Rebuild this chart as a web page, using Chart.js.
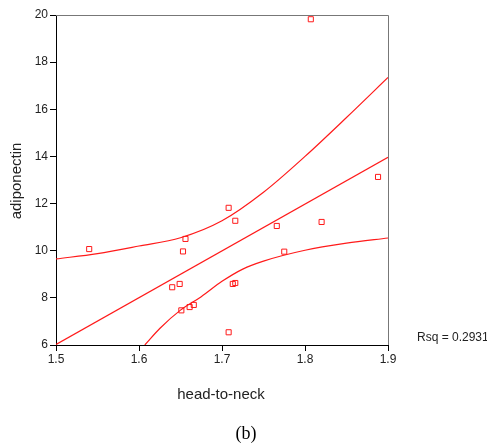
<!DOCTYPE html>
<html>
<head>
<meta charset="utf-8">
<script src="https://cdn.jsdelivr.net/npm/chart.js@4/dist/chart.umd.min.js"></script>
<style>
    html, body { margin: 0; padding: 0; background: #fff; }
    #chart { display: block; }
</style>
</head>
<body>
<canvas id="chart" width="487" height="443"></canvas>
<script>
// Observed points
const headToNeck = [1.540, 1.640, 1.649, 1.651, 1.653, 1.656, 1.661, 1.666, 1.708, 1.708, 1.713, 1.716, 1.716, 1.766, 1.775, 1.807, 1.820, 1.888];
const adiponectin = [10.07, 8.45, 8.59, 7.47, 9.97, 10.50, 7.61, 7.70, 11.82, 6.54, 8.59, 8.63, 11.27, 11.05, 9.96, 19.82, 11.22, 13.13];

// Fit line and confidence band
const fitX = [1.5, 1.9];
const fitY = [6.02, 13.96];
const upperX = [1.5, 1.55, 1.6, 1.65, 1.7, 1.75, 1.8, 1.85, 1.9];
const upperY = [9.65, 9.88, 10.2, 10.55, 11.27, 12.48, 14.0, 15.65, 17.35];
const lowerX = [1.607, 1.625, 1.65, 1.675, 1.7, 1.725, 1.75, 1.8, 1.85, 1.9];
const lowerY = [6.0, 6.7, 7.48, 8.05, 8.7, 9.22, 9.56, 10.02, 10.32, 10.54];

const xTicks = [1.5, 1.6, 1.7, 1.8, 1.9];
const yTicks = [6, 8, 10, 12, 14, 16, 18, 20];
const rsqText = 'Rsq = 0.2931';

const RED = '#ff1a1a';
const pts = (xs, ys) => xs.map((x, i) => ({x: x, y: ys[i]}));

// extra text and frame
const decorations = {
    id: 'decorations',
    afterDraw(chart) {
        const c = chart.ctx;
        const a = chart.chartArea;
        c.save();
        c.strokeStyle = '#777';
        c.lineWidth = 1;
        c.beginPath();
        c.moveTo(a.left, a.top + 0.5);
        c.lineTo(a.right + 0.5, a.top + 0.5);
        c.lineTo(a.right + 0.5, a.bottom);
        c.stroke();

        c.fillStyle = '#222';
        c.textBaseline = 'middle';
        c.font = '12px "Liberation Sans", Arial, sans-serif';
        c.textAlign = 'left';
        c.fillText(rsqText, 417, 338);

        c.font = '15px "Liberation Sans", Arial, sans-serif';
        c.textAlign = 'center';
        c.fillText('head-to-neck', 221, 395);

        c.save();
        c.translate(17, 181);
        c.rotate(-Math.PI / 2);
        c.fillText('adiponectin', 0, 0);
        c.restore();

        c.font = '18px "Liberation Serif", "Times New Roman", serif';
        c.fillStyle = '#000';
        c.fillText('(b)', 246, 434);
        c.restore();
    }
};

new Chart(document.getElementById('chart'), {
    type: 'scatter',
    data: {
        datasets: [
            {
                data: pts(headToNeck, adiponectin),
                pointStyle: 'rect',
                pointRadius: 3.6,
                pointBorderWidth: 1,
                pointBorderColor: RED,
                pointBackgroundColor: 'rgba(0,0,0,0)',
                showLine: false
            },
            {
                data: pts(fitX, fitY),
                showLine: true, pointRadius: 0,
                borderColor: RED, borderWidth: 1.2
            },
            {
                data: pts(upperX, upperY),
                showLine: true, pointRadius: 0, cubicInterpolationMode: 'monotone',
                borderColor: RED, borderWidth: 1.2
            },
            {
                data: pts(lowerX, lowerY),
                showLine: true, pointRadius: 0, cubicInterpolationMode: 'monotone',
                borderColor: RED, borderWidth: 1.2
            }
        ]
    },
    options: {
        responsive: false,
        animation: false,
        events: [],
        layout: { padding: { left: 0, top: 15, right: 99, bottom: 0 } },
        plugins: { legend: { display: false }, tooltip: { enabled: false } },
        scales: {
            x: {
                type: 'linear', min: 1.5, max: 1.9,
                afterBuildTicks: s => { s.ticks = xTicks.map(v => ({value: v})); },
                afterFit: s => { s.height = 98; },
                ticks: {
                    padding: 1, color: '#222',
                    font: { family: '"Liberation Sans", Arial, sans-serif', size: 12 },
                    callback: v => v.toFixed(1)
                },
                grid: { drawOnChartArea: false, tickLength: 6, color: '#000' },
                border: { color: '#000', width: 1 }
            },
            y: {
                type: 'linear', min: 6, max: 20,
                afterBuildTicks: s => { s.ticks = yTicks.map(v => ({value: v})); },
                afterFit: s => { s.width = 56; },
                ticks: {
                    padding: 2, color: '#222',
                    font: { family: '"Liberation Sans", Arial, sans-serif', size: 12 },
                    callback: v => String(v)
                },
                grid: { drawOnChartArea: false, tickLength: 6, color: '#000' },
                border: { color: '#000', width: 1 }
            }
        }
    },
    plugins: [decorations]
});
</script>
</body>
</html>
